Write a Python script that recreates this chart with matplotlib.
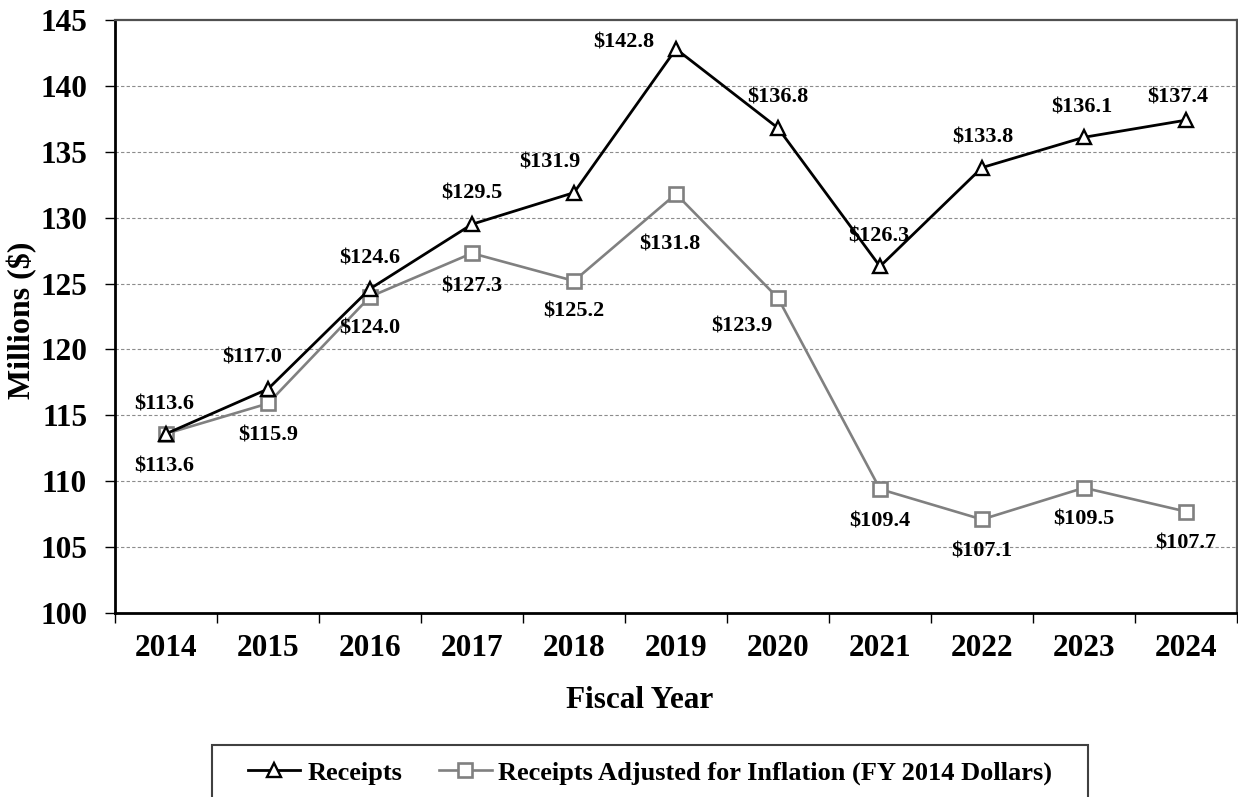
import matplotlib
matplotlib.use("Agg")
import matplotlib.pyplot as plt
from matplotlib.patches import Rectangle
from matplotlib.lines import Line2D

years = ["2014", "2015", "2016", "2017", "2018", "2019", "2020", "2021", "2022", "2023", "2024"]
receipts = [113.6, 117.0, 124.6, 129.5, 131.9, 142.8, 136.8, 126.3, 133.8, 136.1, 137.4]
adjusted = [113.6, 115.9, 124.0, 127.3, 125.2, 131.8, 123.9, 109.4, 107.1, 109.5, 107.7]
yticks = [100, 105, 110, 115, 120, 125, 130, 135, 140, 145]
series_names = ["Receipts", "Receipts Adjusted for Inflation (FY 2014 Dollars)"]

# label offsets in pixels (dx, dy with y up)
rec_off = [(-2, 29), (-16, 31), (0, 30), (0, 31), (-24, 30), (-52, 6), (0, 31), (-1, 30), (1, 30), (-2, 30), (-8, 23)]
adj_off = [(-2, -33), (0, -32), (0, -32), (0, -33), (0, -31), (-6, -51), (-36, -28), (0, -32), (0, -32), (0, -32), (0, -32)]

plt.rcParams['font.family'] = ['Liberation Serif', 'DejaVu Serif']
plt.rcParams['font.weight'] = 'bold'

W, H = 1238, 797
fig = plt.figure(figsize=(W / 100, H / 100), dpi=100)
ax = fig.add_axes([115 / W, 1 - 613 / H, (1237 - 115) / W, (613 - 20) / H])

x = list(range(len(years)))
GRAY = '#808080'
ax.plot(x, receipts, color='black', lw=2.0, marker='^', markersize=10,
        markerfacecolor='white', markeredgecolor='black', markeredgewidth=1.7, zorder=4)
ax.plot(x, adjusted, color=GRAY, lw=1.9, marker='s', markersize=10,
        markerfacecolor='white', markeredgecolor=GRAY, markeredgewidth=1.9, zorder=3)

for i, v in enumerate(receipts):
    ax.annotate(f"${v:.1f}", (x[i], v), xytext=rec_off[i], textcoords='offset pixels',
                ha='center', va='center', fontsize=16, fontweight='bold', zorder=5)
for i, v in enumerate(adjusted):
    ax.annotate(f"${v:.1f}", (x[i], v), xytext=adj_off[i], textcoords='offset pixels',
                ha='center', va='center', fontsize=16, fontweight='bold', zorder=5)

ax.set_xlim(-0.5, len(years) - 0.5)
ax.set_ylim(100, 145)
ax.set_yticks(yticks)
ax.set_yticklabels([str(t) for t in yticks], fontsize=22.5, fontweight='bold')
ax.tick_params(axis='y', length=7, width=1, pad=13, direction='out')

ax.set_xticks([i - 0.5 for i in range(len(years) + 1)])
ax.set_xticklabels([])
ax.set_xticks(x, minor=True)
ax.set_xticklabels(years, minor=True, fontsize=22.5, fontweight='bold')
ax.tick_params(axis='x', which='major', length=7, width=1, direction='out')
ax.tick_params(axis='x', which='minor', length=0, pad=15)

for t in yticks[1:-1]:
    ax.axhline(t, color='#8c8c8c', lw=0.8, linestyle=(0, (3, 2)), zorder=1)

ax.spines['left'].set_color('black')
ax.spines['left'].set_linewidth(2.0)
ax.spines['bottom'].set_color('black')
ax.spines['bottom'].set_linewidth(2.0)
for s in ['top', 'right']:
    ax.spines[s].set_color('#505050')
    ax.spines[s].set_linewidth(1.6)

fig.text(640 / W, 1 - 700 / H, "Fiscal Year", ha='center', va='center',
         fontsize=22.5, fontweight='bold')
fig.text(22 / W, 1 - 320 / H, "Millions ($)", ha='center', va='center',
         rotation=90, fontsize=23, fontweight='bold')

# legend
fig.patches.append(Rectangle((212 / W, -0.01), (1088 - 212) / W, 1 - 745 / H + 0.01,
                             transform=fig.transFigure, fill=False,
                             edgecolor='#404040', lw=1.5))
handles = [
    Line2D([], [], color='black', lw=2.0, marker='^', markersize=10,
           markerfacecolor='white', markeredgecolor='black', markeredgewidth=1.7),
    Line2D([], [], color=GRAY, lw=1.9, marker='s', markersize=10,
           markerfacecolor='white', markeredgecolor=GRAY, markeredgewidth=1.9),
]
leg = fig.legend(handles, series_names, loc='center', bbox_to_anchor=(650 / W, 1 - 773 / H),
                 ncol=2, frameon=False, prop={'family': 'Liberation Serif', 'weight': 'bold', 'size': 19},
                 handlelength=2.0, handletextpad=0.25, columnspacing=1.4)

fig.savefig("out.png", dpi=100)
